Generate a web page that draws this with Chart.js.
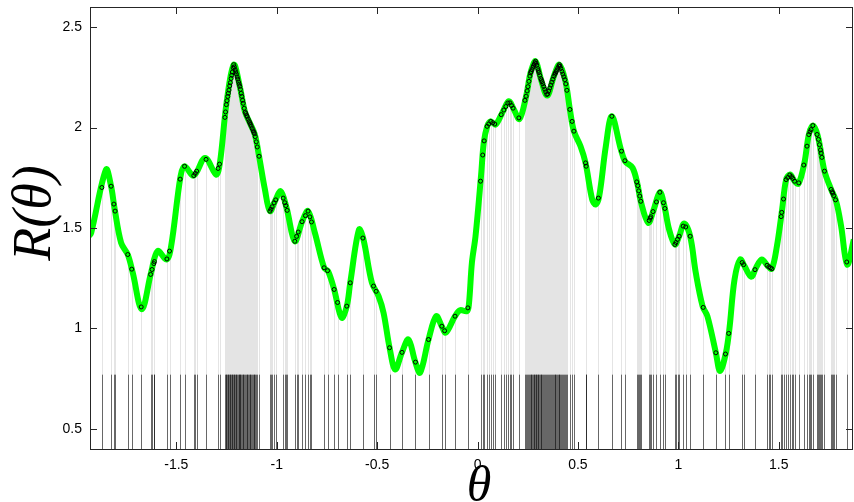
<!DOCTYPE html>
<html>
<head>
<meta charset="utf-8">
<title>R(θ)</title>
<script src="https://cdn.jsdelivr.net/npm/chart.js@4.4.1/dist/chart.umd.min.js"></script>
<style>
    body { margin: 0; background: #fff; }
    canvas { display: block; }
</style>
</head>
<body>
<canvas id="grafico" width="854" height="502"></canvas>
<script>
// Curva estimada R(theta)
const curvaTheta = [-1.935, -1.924, -1.850, -1.825, -1.808, -1.775, -1.742, -1.717, -1.672, -1.626, -1.593, -1.548, -1.526, -1.479, -1.459, -1.413, -1.357, -1.302, -1.283, -1.250, -1.214, -1.184, -1.159, -1.134, -1.109, -1.088, -1.059, -1.034, -1.009, -0.980, -0.951, -0.910, -0.873, -0.844, -0.810, -0.764, -0.744, -0.714, -0.677, -0.651, -0.634, -0.590, -0.568, -0.526, -0.493, -0.468, -0.438, -0.410, -0.377, -0.344, -0.311, -0.286, -0.244, -0.206, -0.178, -0.158, -0.112, -0.087, -0.053, -0.043, -0.028, -0.010, 0.018, 0.031, 0.048, 0.065, 0.090, 0.123, 0.156, 0.181, 0.209, 0.242, 0.264, 0.289, 0.314, 0.347, 0.380, 0.408, 0.438, 0.460, 0.480, 0.513, 0.538, 0.571, 0.588, 0.606, 0.639, 0.669, 0.714, 0.735, 0.772, 0.797, 0.813, 0.850, 0.875, 0.908, 0.929, 0.954, 0.983, 1.004, 1.029, 1.059, 1.087, 1.121, 1.145, 1.187, 1.208, 1.237, 1.255, 1.280, 1.308, 1.330, 1.363, 1.387, 1.416, 1.446, 1.466, 1.491, 1.517, 1.537, 1.557, 1.579, 1.599, 1.628, 1.650, 1.670, 1.695, 1.728, 1.761, 1.786, 1.811, 1.841, 1.874, 1.880];
const curvaR = [1.460, 1.476, 1.791, 1.708, 1.600, 1.426, 1.368, 1.277, 1.095, 1.277, 1.385, 1.343, 1.409, 1.758, 1.807, 1.761, 1.849, 1.766, 1.824, 2.123, 2.313, 2.205, 2.081, 2.023, 1.965, 1.857, 1.692, 1.584, 1.633, 1.683, 1.600, 1.434, 1.534, 1.584, 1.476, 1.302, 1.285, 1.194, 1.053, 1.111, 1.227, 1.493, 1.443, 1.227, 1.161, 1.078, 0.904, 0.796, 0.879, 0.945, 0.837, 0.780, 0.945, 1.061, 1.011, 0.979, 1.061, 1.091, 1.086, 1.119, 1.327, 1.459, 1.766, 1.924, 2.006, 2.031, 2.015, 2.073, 2.131, 2.090, 2.043, 2.156, 2.272, 2.330, 2.247, 2.159, 2.255, 2.313, 2.230, 2.090, 1.982, 1.907, 1.824, 1.642, 1.617, 1.658, 1.907, 2.056, 1.891, 1.832, 1.800, 1.716, 1.633, 1.526, 1.584, 1.678, 1.617, 1.493, 1.418, 1.459, 1.522, 1.459, 1.277, 1.111, 1.061, 0.879, 0.788, 0.879, 1.003, 1.244, 1.343, 1.310, 1.257, 1.302, 1.343, 1.310, 1.297, 1.409, 1.592, 1.741, 1.766, 1.733, 1.721, 1.824, 1.965, 2.010, 1.957, 1.783, 1.692, 1.633, 1.509, 1.318, 1.443, 1.470];

// Posicoes das amostras (pontos e tracos verticais)
const amostrasTheta = [
    -1.871, -1.825, -1.811, -1.805, -1.742, -1.722, -1.675, -1.628, -1.621, -1.612, -1.609, -1.547, -1.534, -1.481, -1.459, -1.413, -1.406, -1.399, -1.352, -1.292, -1.285,
    -1.258, -1.255, -1.251, -1.248, -1.244, -1.241, -1.238, -1.234, -1.231, -1.227, -1.224, -1.221, -1.217, -1.214, -1.211, -1.207, -1.204, -1.201, -1.197, -1.194, -1.190, -1.187, -1.184, -1.181, -1.177, -1.174, -1.170, -1.167, -1.162, -1.157, -1.154, -1.150, -1.147, -1.142, -1.137, -1.134, -1.131, -1.127, -1.122, -1.117, -1.114, -1.111, -1.107, -1.102, -1.097,
    -1.088, -1.034, -1.029, -1.023, -1.013, -1.005, -0.968, -0.960, -0.955, -0.948, -0.910, -0.901, -0.893, -0.874, -0.857, -0.844, -0.835, -0.827, -0.764, -0.747, -0.714, -0.697, -0.651, -0.634, -0.571, -0.518, -0.505, -0.438, -0.376, -0.309, -0.244, -0.178, -0.164, -0.112, -0.048,
    0.015, 0.026, 0.033, 0.048, 0.056, 0.066, 0.076, 0.086, 0.118, 0.131, 0.141, 0.151, 0.161, 0.169, 0.177, 0.206,
    0.236, 0.242, 0.247, 0.251, 0.256, 0.261, 0.264, 0.267, 0.271, 0.276, 0.279, 0.282, 0.286, 0.289, 0.292, 0.295, 0.300, 0.303, 0.306, 0.310, 0.315, 0.318, 0.321, 0.325, 0.330, 0.335, 0.340, 0.345, 0.350, 0.355, 0.360, 0.365, 0.370, 0.375, 0.380, 0.385, 0.388, 0.391, 0.395, 0.400, 0.405, 0.408, 0.411, 0.415, 0.420, 0.425, 0.430, 0.435, 0.440, 0.445,
    0.460, 0.471, 0.480, 0.538, 0.541, 0.602, 0.669, 0.717, 0.734, 0.793, 0.798, 0.803, 0.808, 0.813, 0.855, 0.860, 0.863, 0.874, 0.891, 0.908, 0.926, 0.933, 0.983, 0.988, 0.996, 1.004, 1.024, 1.037, 1.059, 1.124, 1.187, 1.235, 1.251, 1.318, 1.325, 1.382,
    1.442, 1.451, 1.459, 1.466, 1.512, 1.515, 1.524, 1.537, 1.545, 1.555, 1.564, 1.570, 1.579, 1.600, 1.625, 1.641, 1.650, 1.656, 1.661, 1.670, 1.691, 1.698, 1.703, 1.708, 1.711, 1.715, 1.728, 1.761, 1.766, 1.769, 1.774, 1.783, 1.839
];

const ticksTheta = [-1.5, -1, -0.5, 0, 0.5, 1, 1.5];
const ticksR = [0.5, 1, 1.5, 2, 2.5];
const alturaTracos = 0.77; // topo dos tracos pretos no rodape

// valor da curva na posicao t (as amostras ficam sobre a curva)
function curvaEm(t) {
    for (let i = 1; i < curvaTheta.length; i++) {
        if (t <= curvaTheta[i]) {
            const a = (t - curvaTheta[i - 1]) / (curvaTheta[i] - curvaTheta[i - 1]);
            return curvaR[i - 1] + a * (curvaR[i] - curvaR[i - 1]);
        }
    }
    return curvaR[curvaR.length - 1];
}

const linhasAmostras = {
    id: 'linhasAmostras',
    beforeDatasetsDraw(chart) {
        const { ctx, chartArea, scales: { x, y } } = chart;
        ctx.save();
        ctx.beginPath();
        ctx.rect(chartArea.left, chartArea.top, chartArea.right - chartArea.left, chartArea.bottom - chartArea.top);
        ctx.clip();
        ctx.lineWidth = 1;

        // tracos claros do fundo ate a curva
        ctx.strokeStyle = '#e4e4e4';
        for (const t of amostrasTheta) {
            const px = Math.round(x.getPixelForValue(t)) + 0.5;
            ctx.beginPath();
            ctx.moveTo(px, chartArea.bottom);
            ctx.lineTo(px, y.getPixelForValue(curvaEm(t)));
            ctx.stroke();
        }

        // tracos escuros no rodape
        ctx.strokeStyle = 'rgba(0, 0, 0, 0.55)';
        for (const t of amostrasTheta) {
            const px = Math.round(x.getPixelForValue(t)) + 0.5;
            ctx.beginPath();
            ctx.moveTo(px, chartArea.bottom);
            ctx.lineTo(px, y.getPixelForValue(alturaTracos));
            ctx.stroke();
        }
        ctx.restore();
    },
    afterDraw(chart) {
        const { ctx, chartArea, scales: { x, y } } = chart;
        const { left, right, top, bottom } = chartArea;
        const tam = 7;
        ctx.save();
        ctx.strokeStyle = '#262626';
        ctx.lineWidth = 1;
        ctx.strokeRect(left + 0.5, top + 0.5, right - left - 1, bottom - top);

        ctx.beginPath();
        for (const v of ticksTheta) {
            const px = Math.round(x.getPixelForValue(v)) + 0.5;
            ctx.moveTo(px, bottom);
            ctx.lineTo(px, bottom - tam);
            ctx.moveTo(px, top);
            ctx.lineTo(px, top + tam);
        }
        for (const v of ticksR) {
            const py = Math.round(y.getPixelForValue(v)) + 0.5;
            ctx.moveTo(left, py);
            ctx.lineTo(left + tam, py);
            ctx.moveTo(right, py);
            ctx.lineTo(right - tam, py);
        }
        ctx.stroke();

        // titulos dos eixos
        ctx.fillStyle = '#000';
        ctx.font = 'italic 54px "Liberation Serif"';
        ctx.textAlign = 'center';
        ctx.textBaseline = 'middle';
        ctx.translate(36, 213);
        ctx.rotate(-Math.PI / 2);
        ctx.fillText('R(θ)', 0, 0);
        ctx.setTransform(1, 0, 0, 1, 0, 0);
        ctx.font = 'italic 50px "Liberation Serif"';
        ctx.fillText('θ', 479, 488);
        ctx.restore();
    }
};

function plotarGrafico() {
    const dados = {
        datasets: [{
            type: 'line',
            data: curvaTheta.map((t, i) => ({ x: t, y: curvaR[i] })),
            borderColor: '#00ff00',
            borderWidth: 6,
            pointRadius: 0,
            tension: 0.35,
            fill: false,
            order: 2
        }, {
            data: amostrasTheta.map(t => ({ x: t, y: curvaEm(t) })),
            pointRadius: 2,
            pointBorderWidth: 1,
            pointBorderColor: '#000',
            pointBackgroundColor: 'rgba(0, 0, 0, 0)',
            order: 1
        }]
    };

    const fonteTicks = { family: 'Liberation Sans', size: 14 };

    const config = {
        type: 'scatter',
        data: dados,
        options: {
            responsive: false,
            animation: false,
            devicePixelRatio: 1,
            layout: { autoPadding: false, padding: { top: 7, right: 1, left: 0, bottom: 0 } },
            plugins: { legend: { display: false }, tooltip: { enabled: false } },
            scales: {
                x: {
                    type: 'linear',
                    min: -1.93,
                    max: 1.87,
                    afterBuildTicks: s => { s.ticks = ticksTheta.map(v => ({ value: v })); },
                    afterFit: s => { s.height = 53; s.paddingLeft = 0; s.paddingRight = 0; },
                    grid: { display: false, drawTicks: false },
                    border: { display: false },
                    ticks: { color: '#000', font: fonteTicks, padding: 8, maxRotation: 0, callback: v => String(v) }
                },
                y: {
                    type: 'linear',
                    min: 0.4,
                    max: 2.6,
                    afterBuildTicks: s => { s.ticks = ticksR.map(v => ({ value: v })); },
                    afterFit: s => { s.width = 90; s.paddingTop = 0; s.paddingBottom = 0; },
                    grid: { display: false, drawTicks: false },
                    border: { display: false },
                    ticks: { color: '#000', font: fonteTicks, padding: 8, callback: v => String(v) }
                }
            }
        },
        plugins: [linhasAmostras]
    };

    new Chart(document.getElementById('grafico'), config);
}

plotarGrafico();
</script>
</body>
</html>
